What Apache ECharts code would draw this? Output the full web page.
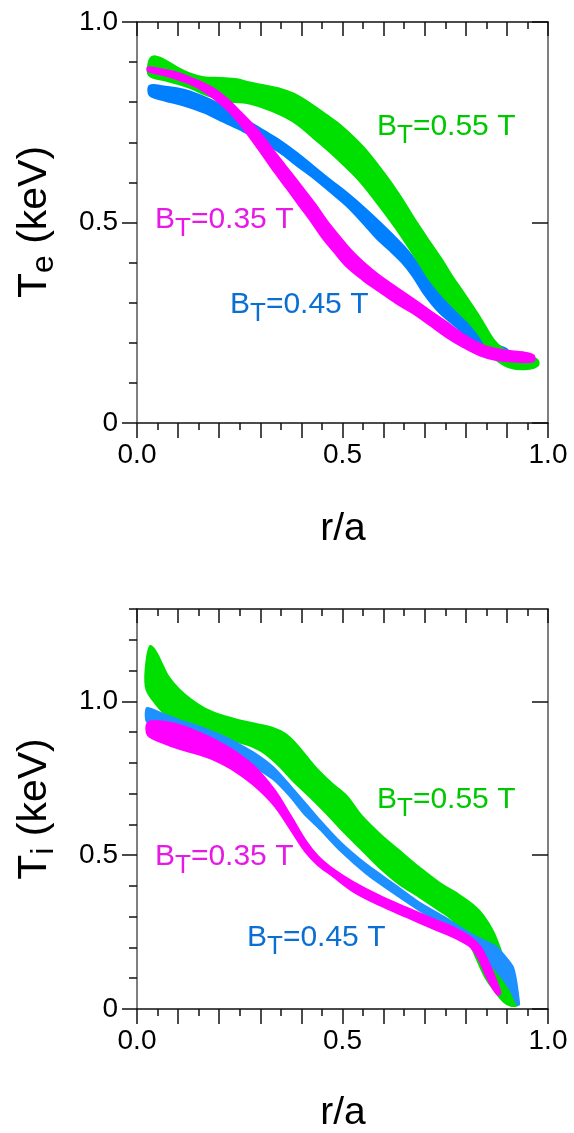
<!DOCTYPE html>
<html><head><meta charset="utf-8">
<script src="https://cdn.jsdelivr.net/npm/echarts@6/dist/echarts.min.js"></script>
<style>html,body{margin:0;padding:0;background:#fff}#c{width:574px;height:1133px}</style>
</head><body><div id="c"></div>
<script>
// ---- tick labels ----
const xTickLabels = ['0.0', '0.5', '1.0'];
const teTickLabels = ['0', '0.5', '1.0'];
const tiTickLabels = ['0', '0.5', '1.0'];
const bandLabels = ['0.35', '0.45', '0.55'];

// ---- Te panel (top): band edges [r/a, keV] ----
const te055Upper = [[0.030,0.900],[0.040,0.913],[0.065,0.905],[0.097,0.886],[0.130,0.870],[0.162,0.861],[0.203,0.859],[0.243,0.856],[0.268,0.849],[0.308,0.841],[0.349,0.832],[0.381,0.820],[0.422,0.795],[0.462,0.766],[0.495,0.741],[0.550,0.687],[0.599,0.624],[0.639,0.566],[0.680,0.499],[0.712,0.450],[0.740,0.408],[0.768,0.362],[0.793,0.325],[0.834,0.262],[0.866,0.208],[0.891,0.183],[0.920,0.170],[0.950,0.165],[0.972,0.158]];
const te055Lower = [[0.030,0.868],[0.070,0.855],[0.120,0.840],[0.178,0.816],[0.227,0.803],[0.268,0.799],[0.308,0.787],[0.349,0.770],[0.389,0.747],[0.430,0.712],[0.470,0.677],[0.493,0.655],[0.542,0.605],[0.590,0.543],[0.631,0.486],[0.663,0.437],[0.690,0.395],[0.710,0.362],[0.740,0.323],[0.777,0.283],[0.810,0.250],[0.837,0.215],[0.855,0.183],[0.875,0.158],[0.909,0.139],[0.950,0.136],[0.975,0.145]];
const te045Upper = [[0.032,0.840],[0.065,0.838],[0.100,0.833],[0.130,0.825],[0.178,0.805],[0.220,0.782],[0.268,0.753],[0.308,0.728],[0.349,0.702],[0.389,0.672],[0.430,0.638],[0.470,0.605],[0.510,0.573],[0.550,0.538],[0.590,0.500],[0.620,0.470],[0.650,0.438],[0.680,0.400],[0.710,0.360],[0.740,0.322],[0.770,0.287],[0.810,0.247],[0.850,0.212],[0.880,0.192],[0.900,0.182]];
const te045Lower = [[0.032,0.818],[0.065,0.806],[0.114,0.793],[0.162,0.776],[0.211,0.752],[0.260,0.728],[0.308,0.700],[0.349,0.675],[0.389,0.643],[0.430,0.612],[0.470,0.578],[0.510,0.543],[0.550,0.500],[0.585,0.460],[0.615,0.432],[0.645,0.402],[0.672,0.367],[0.700,0.322],[0.735,0.278],[0.777,0.241],[0.810,0.212],[0.842,0.191],[0.875,0.180],[0.900,0.175]];
const te035Upper = [[0.028,0.886],[0.065,0.880],[0.105,0.870],[0.146,0.853],[0.187,0.832],[0.219,0.807],[0.251,0.775],[0.284,0.740],[0.308,0.710],[0.340,0.667],[0.373,0.624],[0.405,0.582],[0.434,0.543],[0.462,0.502],[0.491,0.465],[0.520,0.430],[0.550,0.400],[0.590,0.366],[0.631,0.337],[0.672,0.308],[0.712,0.279],[0.753,0.250],[0.793,0.220],[0.826,0.200],[0.858,0.187],[0.899,0.179],[0.939,0.175],[0.964,0.168]];
const te035Lower = [[0.028,0.878],[0.065,0.869],[0.105,0.856],[0.146,0.839],[0.187,0.811],[0.219,0.783],[0.250,0.748],[0.278,0.710],[0.306,0.670],[0.336,0.626],[0.366,0.585],[0.396,0.543],[0.425,0.503],[0.452,0.463],[0.480,0.428],[0.509,0.393],[0.550,0.358],[0.590,0.329],[0.631,0.300],[0.672,0.275],[0.712,0.246],[0.753,0.216],[0.793,0.191],[0.834,0.170],[0.874,0.158],[0.923,0.154],[0.964,0.155]];

// ---- Ti panel (bottom) ----
const ti055Upper = [[0.022,1.100],[0.032,1.177],[0.045,1.160],[0.060,1.120],[0.075,1.080],[0.100,1.040],[0.130,1.005],[0.165,0.975],[0.205,0.953],[0.245,0.938],[0.290,0.925],[0.330,0.912],[0.360,0.893],[0.385,0.862],[0.410,0.822],[0.440,0.775],[0.475,0.730],[0.510,0.690],[0.545,0.628],[0.590,0.568],[0.639,0.512],[0.688,0.457],[0.737,0.407],[0.777,0.375],[0.818,0.336],[0.842,0.302],[0.866,0.250],[0.885,0.185],[0.900,0.125],[0.912,0.060],[0.918,0.025]];
const ti055Lower = [[0.024,1.040],[0.045,0.995],[0.073,0.955],[0.105,0.930],[0.150,0.910],[0.190,0.890],[0.230,0.875],[0.270,0.860],[0.308,0.835],[0.345,0.793],[0.381,0.742],[0.422,0.690],[0.462,0.636],[0.500,0.582],[0.545,0.522],[0.590,0.462],[0.639,0.407],[0.688,0.365],[0.737,0.321],[0.765,0.295],[0.790,0.262],[0.812,0.210],[0.832,0.150],[0.850,0.100],[0.870,0.062],[0.893,0.025],[0.910,0.012],[0.925,0.014]];
const ti045Upper = [[0.024,0.978],[0.065,0.958],[0.105,0.938],[0.154,0.917],[0.200,0.892],[0.235,0.870],[0.284,0.833],[0.333,0.784],[0.373,0.725],[0.414,0.662],[0.446,0.612],[0.495,0.542],[0.558,0.470],[0.623,0.408],[0.688,0.345],[0.753,0.295],[0.810,0.246],[0.866,0.209],[0.878,0.198],[0.915,0.135],[0.930,0.015]];
const ti045Lower = [[0.024,0.934],[0.073,0.927],[0.154,0.895],[0.219,0.857],[0.284,0.790],[0.333,0.745],[0.373,0.690],[0.405,0.637],[0.446,0.583],[0.495,0.514],[0.558,0.440],[0.623,0.378],[0.688,0.320],[0.753,0.270],[0.802,0.225],[0.842,0.172],[0.880,0.115],[0.910,0.058],[0.925,0.014]];
const ti035Upper = [[0.028,0.930],[0.065,0.932],[0.105,0.920],[0.154,0.895],[0.190,0.872],[0.235,0.838],[0.284,0.788],[0.333,0.712],[0.373,0.627],[0.410,0.545],[0.440,0.495],[0.480,0.450],[0.527,0.410],[0.592,0.365],[0.657,0.327],[0.722,0.290],[0.770,0.263],[0.811,0.232],[0.835,0.200],[0.858,0.140],[0.872,0.095],[0.883,0.052]];
const ti035Lower = [[0.028,0.890],[0.065,0.866],[0.105,0.846],[0.154,0.828],[0.190,0.810],[0.235,0.778],[0.284,0.730],[0.333,0.665],[0.373,0.588],[0.410,0.513],[0.440,0.470],[0.475,0.435],[0.527,0.383],[0.592,0.338],[0.657,0.300],[0.722,0.262],[0.778,0.230],[0.811,0.204],[0.832,0.165],[0.850,0.110],[0.868,0.065],[0.878,0.048]];

const GREEN = '#00e000', GREEN_T = '#00c800';
const BLUE = '#0080ff', BLUE2 = '#1e90ff', BLUE_T = '#0a6ed2';
const MAG = '#ff00ff', MAG_T = '#e619e6';
const FONT = '"Liberation Sans", Arial, sans-serif';
const AX = '#555', TK = '#111';

function band(upper, lower, color, xi, yi, z, smooth, edge) {
  const pts = upper.concat(lower.slice().reverse());
  return {
    type: 'custom', xAxisIndex: xi, yAxisIndex: yi, z: z, silent: true,
    data: pts, encode: { x: 0, y: 1 },
    clip: true,
    renderItem: function (params, api) {
      if (params.dataIndex !== 0) return null;
      return {
        type: 'polygon',
        shape: { points: pts.map(p => api.coord(p)), smooth: smooth },
        style: { fill: color, stroke: color, lineWidth: edge, lineJoin: 'round' }
      };
    }
  };
}

function xAxes(gi) {
  return [
    { gridIndex: gi, type: 'value', min: 0, max: 1, interval: 0.1, position: 'bottom',
      axisLine: { show: true, onZero: false, lineStyle: { color: TK, width: 1.5 } },
      axisTick: { show: true, inside: false, length: 15, lineStyle: { color: TK, width: 1.5 } },
      minorTick: { show: true, splitNumber: 2, length: 7, lineStyle: { color: TK, width: 1.5 } },
      axisLabel: { show: true, margin: 18, fontSize: 28, color: '#000', fontFamily: FONT,
        formatter: v => { const k = Math.round(v * 10); return k % 5 === 0 ? xTickLabels[k / 5] : ''; } },
      splitLine: { show: false }, minorSplitLine: { show: false } },
    { gridIndex: gi, type: 'value', min: 0, max: 1, interval: 0.1, position: 'top',
      axisLine: { show: true, onZero: false, lineStyle: { color: TK, width: 1.5 } },
      axisTick: { show: true, inside: true, length: 14, lineStyle: { color: TK, width: 1.5 } },
      minorTick: { show: true, splitNumber: 2, length: 7, lineStyle: { color: TK, width: 1.5 } },
      axisLabel: { show: false }, splitLine: { show: false } }
  ];
}

function yAxes(gi, max, majors, labels) {
  const common = { gridIndex: gi, type: 'value', min: 0, max: max, splitLine: { show: false } };
  return [
    Object.assign({}, common, { position: 'left', interval: 0.5,
      axisLine: { show: true, onZero: false, lineStyle: { color: AX, width: 1.5 } },
      axisTick: { show: true, inside: false, length: 15, customValues: majors, lineStyle: { color: TK, width: 1.5 } },
      axisLabel: { show: true, margin: 19, fontSize: 28, color: '#000', fontFamily: FONT, customValues: majors,
        formatter: v => labels[Math.round(v * 2)] || '' } }),
    Object.assign({}, common, { position: 'left', interval: 0.1,
      axisLine: { show: false },
      axisTick: { show: true, inside: false, length: 7, lineStyle: { color: TK, width: 1.5 } },
      axisLabel: { show: false } }),
    Object.assign({}, common, { position: 'right', interval: 0.5,
      axisLine: { show: true, onZero: false, lineStyle: { color: AX, width: 1.5 } },
      axisTick: { show: true, inside: true, length: 16, customValues: majors, lineStyle: { color: TK, width: 1.5 } },
      axisLabel: { show: false } }),
    Object.assign({}, common, { position: 'right', interval: 0.1,
      axisLine: { show: false },
      axisTick: { show: true, inside: true, length: 8, lineStyle: { color: TK, width: 1.5 } },
      axisLabel: { show: false } })
  ];
}

function bandLabel(x, y, val, color) {
  return {
    type: 'text', x: x, y: y, z: 100,
    style: {
      text: '{b|B}{s|T}{b|=' + val + ' T}',
      align: 'left', verticalAlign: 'middle',
      rich: {
        b: { fontSize: 30, lineHeight: 32, fill: color, fontFamily: FONT },
        s: { fontSize: 26, lineHeight: 26, fill: color, fontFamily: FONT, padding: [18, 0, 0, 0] }
      }
    }
  };
}

function yTitle(x, y, sub) {
  return {
    type: 'text', x: x, y: y, rotation: Math.PI / 2, z: 100,
    style: {
      text: '{m|T}{s|' + sub + '}{m| (keV)}',
      align: 'center', verticalAlign: 'middle',
      rich: {
        m: { fontSize: 41, lineHeight: 44, fill: '#000', fontFamily: FONT },
        s: { fontSize: 32, lineHeight: 32, fill: '#000', fontFamily: FONT, padding: [18, 0, 0, 0] }
      }
    }
  };
}

function xTitle(x, y) {
  return { type: 'text', x: x, y: y, z: 100,
    style: { text: 'r/a', align: 'center', verticalAlign: 'middle', fontSize: 39, fill: '#000', fontFamily: FONT } };
}

const chart = echarts.init(document.getElementById('c'), null, { renderer: 'canvas' });
chart.setOption({
  animation: false,
  backgroundColor: '#fff',
  grid: [
    { left: 137, top: 22, width: 411, height: 401 },
    { left: 137, top: 609, width: 411, height: 400 }
  ],
  xAxis: xAxes(0).concat(xAxes(1)),
  yAxis: yAxes(0, 1.0, [0, 0.5, 1.0], teTickLabels).concat(yAxes(1, 1.3, [0, 0.5, 1.0], tiTickLabels)),
  series: [
    band(te045Upper, te045Lower, BLUE, 0, 0, 1, 0.35, 3),
    band(te055Upper, te055Lower, GREEN, 0, 0, 2, 0.35, 3),
    band(te035Upper, te035Lower, MAG, 0, 0, 3, 0.35, 3),
    band(ti055Upper, ti055Lower, GREEN, 2, 4, 1, 0.35, 3),
    band(ti045Upper, ti045Lower, BLUE2, 2, 4, 2, 0.2, 2),
    band(ti035Upper, ti035Lower, MAG, 2, 4, 3, 0.35, 3)
  ],
  graphic: [
    bandLabel(377, 127, bandLabels[2], GREEN_T),
    bandLabel(155, 220, bandLabels[0], MAG_T),
    bandLabel(230, 305, bandLabels[1], BLUE_T),
    bandLabel(377, 800, bandLabels[2], GREEN_T),
    bandLabel(155, 857, bandLabels[0], MAG_T),
    bandLabel(247, 938, bandLabels[1], BLUE_T),
    yTitle(35, 222, 'e'),
    yTitle(35, 809, 'i'),
    xTitle(343, 529),
    xTitle(343, 1113)
  ]
});
</script></body></html>
